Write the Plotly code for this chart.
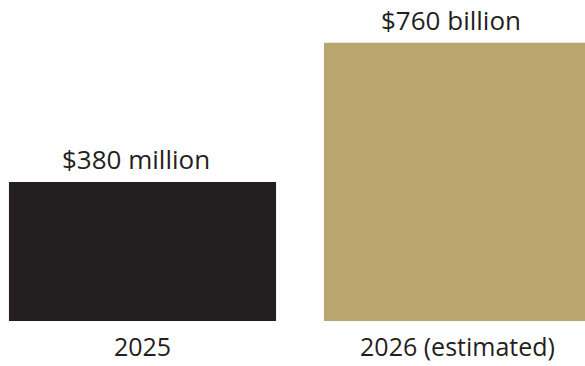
import plotly.graph_objects as go

categories = ["2025", "2026 (estimated)"]
values = [380, 760]
value_labels = ["$380 million", "$760 billion"]
colors = ["#231f20", "#b9a66e"]

xpos = list(range(len(categories)))
FONT = "Open Sans"

fig = go.Figure()
fig.add_trace(go.Bar(
    x=xpos, y=values, width=0.848,
    marker=dict(color=colors, line=dict(width=0)),
    hoverinfo="skip",
))

for xi, v, lab in zip(xpos, values, value_labels):
    fig.add_annotation(x=xi - 0.02, y=v, text=lab, showarrow=False,
                       yanchor="bottom", yshift=3,
                       font=dict(family=FONT, size=26, color="#231f20"))

fig.update_layout(
    width=585, height=366,
    margin=dict(l=0, r=0, t=0, b=45),
    paper_bgcolor="white", plot_bgcolor="white",
    showlegend=False,
    xaxis=dict(tickmode="array", tickvals=xpos, ticktext=categories,
               range=[-0.4524, 1.4048], showgrid=False, zeroline=False,
               showline=False, ticks="outside", ticklen=4, tickcolor="rgba(0,0,0,0)",
               automargin=False,
               tickfont=dict(family=FONT, size=25, color="#231f20")),
    yaxis=dict(range=[0, 877], visible=False, automargin=False),
)

fig.write_html("out.html")
